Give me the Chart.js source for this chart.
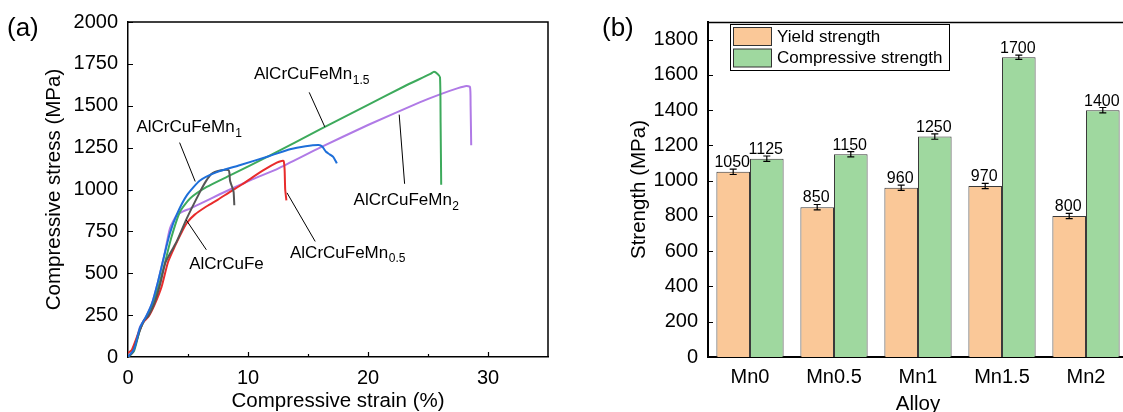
<!DOCTYPE html>
<html>
<head>
<meta charset="utf-8">
<script src="https://cdn.jsdelivr.net/npm/chart.js@4.4.1/dist/chart.umd.min.js"></script>
<style>
html, body { margin:0; padding:0; background:#fff; overflow:hidden; width:1123px; height:412px; }
#chartA { position:absolute; left:0; top:0; }
#chartB { position:absolute; left:560px; top:0; }
</style>
</head>
<body>
<canvas id="chartA" width="560" height="412"></canvas>
<canvas id="chartB" width="580" height="420"></canvas>
<script>
// ---- (a) compressive stress-strain curves ----
const strainFe = [0, 0.4, 0.9, 1.3, 1.7, 2.2, 2.7, 3.1, 3.6, 4.06, 4.9, 6.0, 6.5, 6.97, 7.67, 8.36, 8.45, 8.5, 8.7, 8.8, 8.86];
const stressFe = [0, 30, 140, 215, 245, 320, 440, 560, 630, 690, 828, 986, 1050, 1094, 1113, 1116, 1100, 1054, 1010, 986, 906];

const strainMn05 = [0, 0.3, 0.8, 1.25, 1.7, 2.2, 2.8, 3.33, 3.9, 4.44, 4.9, 5.56, 6.56, 7.5, 8.5, 9.5, 10.4, 11.4, 12.4, 12.8, 12.97, 13.05, 13.1, 13.2];
const stressMn05 = [25, 40, 130, 205, 240, 310, 420, 566, 660, 740, 800, 850, 900, 940, 986, 1030, 1074, 1120, 1160, 1170, 1170, 1120, 1000, 935];

const strainMn1 = [0, 0.5, 1.0, 1.5, 2.0, 2.5, 3.0, 3.5, 4.06, 4.9, 6.0, 7.4, 9.3, 11.8, 13.5, 14.8, 15.9, 16.2, 16.5, 16.8, 17.1, 17.3, 17.4];
const stressMn1 = [0, 45, 175, 240, 320, 450, 600, 740, 850, 965, 1054, 1104, 1145, 1200, 1240, 1258, 1265, 1255, 1225, 1210, 1195, 1170, 1156];

const strainMn15 = [0, 0.5, 1.0, 1.5, 2.0, 2.5, 3.0, 3.6, 4.33, 5.17, 6.56, 8.5, 11.8, 16.0, 20.0, 23.0, 25.2, 25.5, 25.8, 26.0, 26.05, 26.1];
const stressMn15 = [0, 35, 165, 235, 300, 410, 540, 710, 867, 946, 1015, 1084, 1202, 1359, 1505, 1615, 1690, 1703, 1690, 1670, 1400, 1028];

const strainMn2 = [0, 0.5, 1.0, 1.5, 2.0, 2.5, 3.0, 3.5, 4.06, 4.6, 5.17, 6.3, 7.6, 10.4, 12.5, 16.0, 20.0, 24.3, 26.0, 27.5, 28.2, 28.5, 28.55, 28.6];
const stressMn2 = [0, 50, 180, 240, 320, 450, 600, 769, 847, 870, 886, 925, 970, 1062, 1125, 1250, 1385, 1520, 1568, 1605, 1618, 1612, 1500, 1264];

// ---- (b) strength bars ----
const alloys = ['Mn0', 'Mn0.5', 'Mn1', 'Mn1.5', 'Mn2'];
const yieldStrength = [1050, 850, 960, 970, 800];
const yieldErr = [15, 15, 15, 15, 15];
const compStrength = [1125, 1150, 1250, 1700, 1400];
const compErr = [15, 15, 15, 12, 15];

const FONT = "'Liberation Sans', Arial, sans-serif";
Chart.defaults.font.family = FONT;
Chart.defaults.color = '#000';

function pts(xs, ys) {
  return xs.map((x, i) => ({ x: x, y: ys[i] }));
}

// curve labels for (a), placed in data units
const notes = [
  { text: 'AlCrCuFeMn', sub: '1.5', tx: 10.5, ty: 1687, line: [15.1, 1580, 16.4, 1374] },
  { text: 'AlCrCuFeMn', sub: '1', tx: 0.7, ty: 1369, line: [4.3, 1280, 5.6, 1048] },
  { text: 'AlCrCuFe', sub: '', tx: 5.1, ty: 553, line: [4.86, 817, 6.53, 640] },
  { text: 'AlCrCuFeMn', sub: '0.5', tx: 13.5, ty: 620, line: [13.25, 980, 15.6, 690] },
  { text: 'AlCrCuFeMn', sub: '2', tx: 18.8, ty: 935, line: [22.6, 1447, 23.05, 1034] }
];

function drawInwardTicks(ctx, chart, ySel, xSel) {
  const ca = chart.chartArea;
  const sx = chart.scales.x, sy = chart.scales.y;
  ctx.beginPath();
  sy.ticks.forEach(t => {
    const len = ySel(t.value);
    if (!len) return;
    const y = Math.round(sy.getPixelForValue(t.value)) + 0.5;
    ctx.moveTo(ca.left, y);
    ctx.lineTo(ca.left + len, y);
  });
  if (xSel) {
    sx.ticks.forEach(t => {
      const len = xSel(t.value);
      if (!len) return;
      const x = Math.round(sx.getPixelForValue(t.value)) + 0.5;
      ctx.moveTo(x, ca.bottom);
      ctx.lineTo(x, ca.bottom - len);
    });
  }
  ctx.stroke();
}

const decorA = {
  id: 'decorA',
  afterDraw(chart) {
    const { ctx, chartArea: ca, scales } = chart;
    ctx.save();
    ctx.strokeStyle = '#000';
    ctx.lineWidth = 1.5;
    ctx.beginPath();
    ctx.moveTo(ca.left, ca.top);
    ctx.lineTo(ca.right, ca.top);
    ctx.lineTo(ca.right, ca.bottom);
    ctx.stroke();

    ctx.lineWidth = 1.2;
    drawInwardTicks(ctx, chart,
      v => (v > 0 ? 5 : 0),
      v => (v <= 0 || v >= 35 ? 0 : (v % 10 === 0 ? 5 : 3)));

    // leader lines and labels
    ctx.lineWidth = 1;
    ctx.fillStyle = '#000';
    notes.forEach(n => {
      const l = n.line;
      ctx.beginPath();
      ctx.moveTo(scales.x.getPixelForValue(l[0]), scales.y.getPixelForValue(l[1]));
      ctx.lineTo(scales.x.getPixelForValue(l[2]), scales.y.getPixelForValue(l[3]));
      ctx.stroke();
      const x = scales.x.getPixelForValue(n.tx);
      const y = scales.y.getPixelForValue(n.ty);
      ctx.font = '17px ' + FONT;
      ctx.textAlign = 'left';
      ctx.textBaseline = 'middle';
      ctx.fillText(n.text, x, y);
      if (n.sub) {
        const w = ctx.measureText(n.text).width;
        ctx.font = '12px ' + FONT;
        ctx.fillText(n.sub, x + w + 0.5, y + 6);
      }
    });

    ctx.font = '26px ' + FONT;
    ctx.textAlign = 'left';
    ctx.textBaseline = 'middle';
    ctx.fillText('(a)', 7, 29);
    ctx.restore();
  }
};

new Chart(document.getElementById('chartA'), {
  type: 'line',
  data: {
    datasets: [
      { label: 'AlCrCuFeMn1', data: pts(strainMn1, stressMn1), borderColor: '#1E6FD9' },
      { label: 'AlCrCuFe', data: pts(strainFe, stressFe), borderColor: '#555555' },
      { label: 'AlCrCuFeMn0.5', data: pts(strainMn05, stressMn05), borderColor: '#E82C2C' },
      { label: 'AlCrCuFeMn1.5', data: pts(strainMn15, stressMn15), borderColor: '#3DAA5C' },
      { label: 'AlCrCuFeMn2', data: pts(strainMn2, stressMn2), borderColor: '#B07AE6' }
    ]
  },
  options: {
    responsive: false,
    animation: false,
    devicePixelRatio: 1,
    layout: { padding: { top: 17, right: 12, left: 0, bottom: 0 } },
    elements: {
      line: { borderWidth: 2, tension: 0.2, fill: false },
      point: { radius: 0 }
    },
    plugins: { legend: { display: false }, tooltip: { enabled: false } },
    scales: {
      x: {
        type: 'linear',
        min: 0,
        max: 35,
        afterFit: s => { s.height = 55; },
        grid: { display: false, drawTicks: false },
        border: { display: true, color: '#000', width: 1.5 },
        ticks: {
          stepSize: 5,
          padding: 9,
          font: { size: 20 },
          callback: v => (v % 10 === 0 && v < 35 ? String(v) : '')
        },
        title: {
          display: true,
          text: 'Compressive strain (%)',
          font: { size: 20.5, lineHeight: 1 },
          padding: { top: 0, bottom: 0 }
        }
      },
      y: {
        min: 0,
        max: 2000,
        afterFit: s => { s.width = 128; },
        grid: { display: false, drawTicks: false },
        border: { display: true, color: '#000', width: 1.5 },
        ticks: { stepSize: 250, padding: 10, font: { size: 20 }, callback: v => String(v) },
        title: {
          display: true,
          text: 'Compressive stress (MPa)',
          font: { size: 20.5, lineHeight: 1 },
          padding: { top: 44, bottom: 0 }
        }
      }
    }
  },
  plugins: [decorA]
});

// ---- (b) ----
const errs = [yieldErr, compErr];

const decorB = {
  id: 'decorB',
  afterDraw(chart) {
    const { ctx, chartArea: ca, scales } = chart;
    ctx.save();
    ctx.strokeStyle = '#000';
    ctx.lineWidth = 1.5;
    ctx.beginPath();
    ctx.moveTo(ca.left, ca.top + 0.5);
    ctx.lineTo(ca.right, ca.top + 0.5);
    ctx.stroke();

    ctx.lineWidth = 1.2;
    drawInwardTicks(ctx, chart, v => (v > 0 && v % 200 === 0 ? 5 : 0), null);

    // error bars + value labels
    chart.data.datasets.forEach((ds, di) => {
      const meta = chart.getDatasetMeta(di);
      meta.data.forEach((bar, i) => {
        const v = ds.data[i];
        const e = errs[di][i];
        const yTop = scales.y.getPixelForValue(v + e);
        const yBot = scales.y.getPixelForValue(v - e);
        ctx.strokeStyle = '#000';
        ctx.lineWidth = 1.2;
        ctx.beginPath();
        ctx.moveTo(bar.x, yTop); ctx.lineTo(bar.x, yBot);
        ctx.moveTo(bar.x - 3.5, yTop); ctx.lineTo(bar.x + 3.5, yTop);
        ctx.moveTo(bar.x - 3.5, yBot); ctx.lineTo(bar.x + 3.5, yBot);
        ctx.stroke();
        ctx.fillStyle = '#000';
        ctx.font = '16px ' + FONT;
        ctx.textAlign = 'center';
        ctx.textBaseline = 'alphabetic';
        ctx.fillText(String(v), bar.x - 1, yTop - 2);
      });
    });

    // legend box
    const lx = ca.left + 22, ly = 24;
    ctx.lineWidth = 1;
    ctx.strokeStyle = '#000';
    ctx.strokeRect(lx + 0.5, ly + 0.5, 219, 46);
    chart.data.datasets.forEach((ds, di) => {
      const sy = ly + 3.5 + di * 21.5;
      ctx.fillStyle = ds.backgroundColor;
      ctx.fillRect(lx + 3.5, sy, 38, 18);
      ctx.strokeStyle = '#333';
      ctx.strokeRect(lx + 3.5, sy, 38, 18);
      ctx.fillStyle = '#000';
      ctx.font = '17px ' + FONT;
      ctx.textAlign = 'left';
      ctx.textBaseline = 'middle';
      ctx.fillText(ds.label, lx + 47, sy + 9.5);
    });

    ctx.font = '26px ' + FONT;
    ctx.textAlign = 'left';
    ctx.textBaseline = 'middle';
    ctx.fillText('(b)', 42, 29);
    ctx.restore();
  }
};

new Chart(document.getElementById('chartB'), {
  type: 'bar',
  data: {
    labels: alloys,
    datasets: [
      {
        label: 'Yield strength',
        data: yieldStrength,
        backgroundColor: '#FAC898',
        borderColor: '#3a3a3a',
        borderWidth: 1
      },
      {
        label: 'Compressive strength',
        data: compStrength,
        backgroundColor: '#9FD89F',
        borderColor: '#3a3a3a',
        borderWidth: 1
      }
    ]
  },
  options: {
    responsive: false,
    animation: false,
    devicePixelRatio: 1,
    categoryPercentage: 0.8,
    barPercentage: 1.0,
    layout: { padding: { top: 17, right: 12, left: 0, bottom: 0 } },
    plugins: { legend: { display: false }, tooltip: { enabled: false } },
    scales: {
      x: {
        afterFit: s => { s.height = 63; },
        grid: { display: false, drawTicks: false },
        border: { display: true, color: '#000', width: 2 },
        ticks: { padding: 8, font: { size: 20 } },
        title: {
          display: true,
          text: 'Alloy',
          font: { size: 20.5, lineHeight: 1 },
          padding: { top: 0, bottom: 5 }
        }
      },
      y: {
        min: 0,
        max: 1900,
        afterFit: s => { s.width = 148; },
        grid: { display: false, drawTicks: false },
        border: { display: true, color: '#000', width: 2 },
        ticks: { stepSize: 200, includeBounds: false, padding: 10, font: { size: 20 }, callback: v => String(v) },
        title: {
          display: true,
          text: 'Strength (MPa)',
          font: { size: 20.5, lineHeight: 1 },
          padding: { top: 69, bottom: 0 }
        }
      }
    }
  },
  plugins: [decorB]
});
</script>
</body>
</html>
